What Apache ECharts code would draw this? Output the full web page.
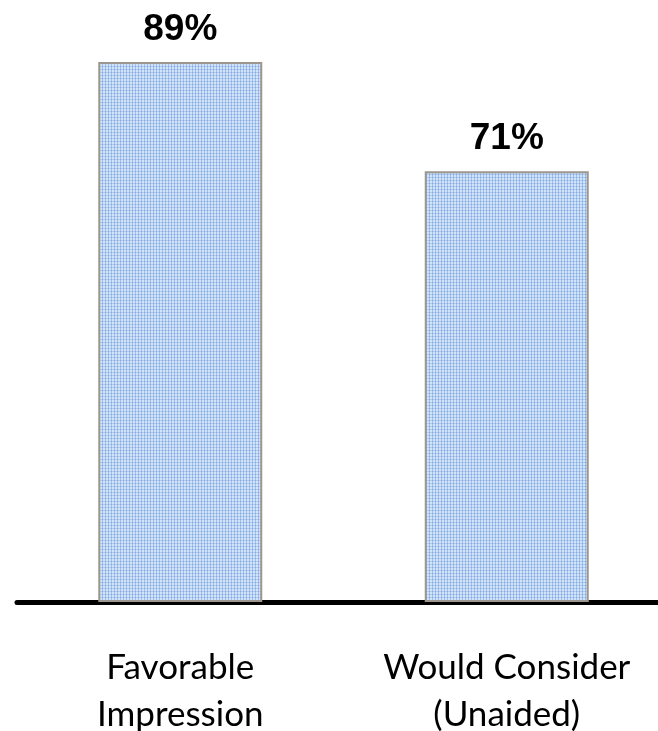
<!DOCTYPE html>
<html><head><meta charset="utf-8">
<script src="https://cdn.jsdelivr.net/npm/echarts@6/dist/echarts.min.js"></script>
<style>html,body{margin:0;padding:0;background:#fff}#c{width:658px;height:731px}</style>
</head><body><div id="c"></div>
<script>
const categories = ['Favorable\nImpression', 'Would Consider\n(Unaided)'];
const values = [89, 71];

function makePattern() {
  const c = document.createElement('canvas');
  c.width = 6; c.height = 6;
  const g = c.getContext('2d');
  g.fillStyle = '#d2e2f7'; g.fillRect(0, 0, 6, 6);
  g.fillStyle = '#9fbfec';
  g.fillRect(0, 0, 1, 6); g.fillRect(3, 0, 1, 6);
  g.fillStyle = '#aec9ef';
  g.fillRect(0, 0, 6, 1); g.fillRect(0, 3, 6, 1);
  g.fillStyle = '#86abe3';
  g.fillRect(0, 0, 1, 1); g.fillRect(3, 0, 1, 1); g.fillRect(0, 3, 1, 1); g.fillRect(3, 3, 1, 1);
  return c;
}

const chart = echarts.init(document.getElementById('c'));
chart.setOption({
  animation: false,
  grid: { left: 17, top: 62, width: 653, height: 540, outerBoundsMode: 'none', containLabel: false },
  xAxis: {
    type: 'category', data: categories,
    axisLine: { lineStyle: { color: '#000', width: 5 } },
    axisTick: { show: false },
    axisLabel: { interval: 0, color: '#000', fontFamily: 'Lato', fontSize: 35, lineHeight: 47, margin: 42, hideOverlap: false }
  },
  yAxis: { type: 'value', min: 0, max: 89, show: false, splitLine: { show: false } },
  series: [{
    type: 'bar', data: values, barWidth: 164,
    itemStyle: { color: { image: makePattern(), repeat: 'repeat' }, borderColor: '#9c968f', borderWidth: 2 },
    label: {
      show: true, position: 'top', distance: 14,
      formatter: p => p.value + '%',
      color: '#000', fontFamily: 'Liberation Sans', fontWeight: 'bold', fontSize: 37
    }
  }]
});
</script></body></html>
